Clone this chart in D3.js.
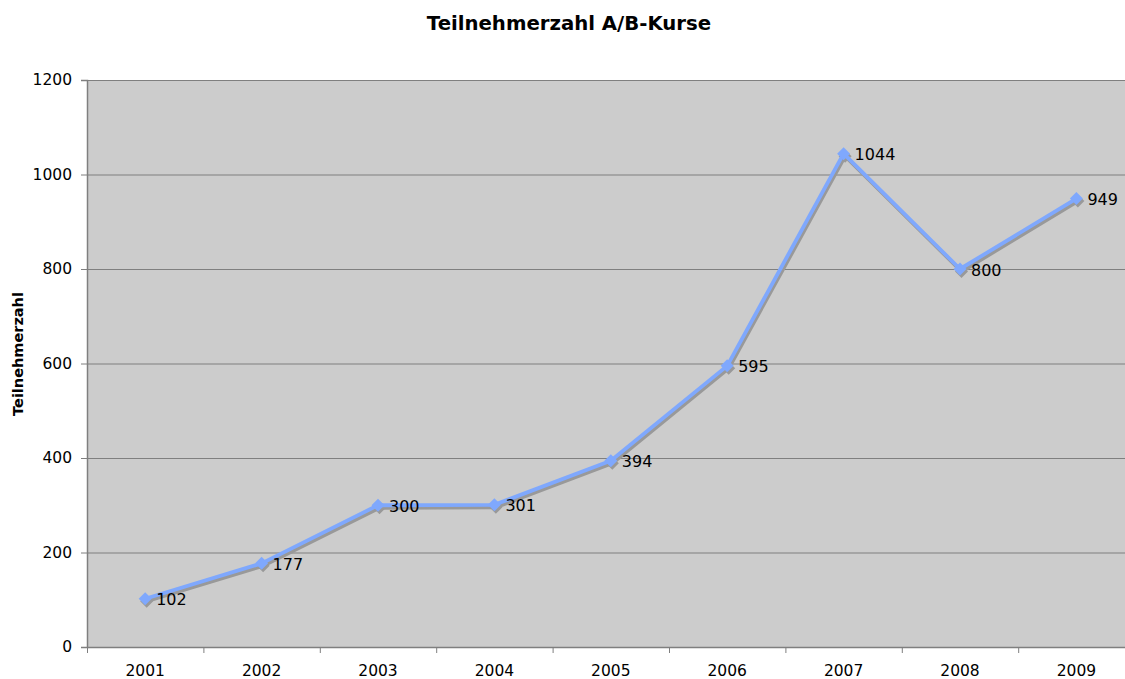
<!DOCTYPE html>
<html><head><meta charset="utf-8">
<script src="https://cdn.jsdelivr.net/npm/d3@7"></script>
<style>body{margin:0;background:#fff}svg{display:block}</style>
</head><body>
<svg id="c" width="1125" height="679"></svg>
<script>
const years = ["2001","2002","2003","2004","2005","2006","2007","2008","2009"];
const values = [102,177,300,301,394,595,1044,800,949];
const yTicks = [0,200,400,600,800,1000,1200];
const title = "Teilnehmerzahl A/B-Kurse";
const yTitle = "Teilnehmerzahl";

(function(){
const svg = d3.select("#c");
const pL = 87, pR = 1134.6, pT = 80, pB = 647;
const x = d3.scaleBand().domain(years).range([pL, pR]);
const y = d3.scaleLinear().domain([0,1200]).range([pB, pT]);
const font = "Verdana, 'DejaVu Sans', sans-serif";

svg.append("rect").attr("x", pL).attr("y", pT).attr("width", pR-pL).attr("height", pB-pT).attr("fill", "#cccccc");

svg.append("g").selectAll("line").data(yTicks.filter(d=>d>0)).join("line")
  .attr("x1", pL).attr("x2", pR).attr("y1", d=>y(d)+0.5).attr("y2", d=>y(d)+0.5)
  .attr("stroke", "#7f7f7f").attr("stroke-width", 1);

const ya = svg.append("g").attr("transform", `translate(${pL},0)`)
  .call(d3.axisLeft(y).tickValues(yTicks).tickFormat(d3.format("d")).tickSize(6).tickPadding(9));
ya.select(".domain").attr("stroke", "#7f7f7f").attr("stroke-width", 1.5);
ya.selectAll(".tick line").attr("stroke", "#7f7f7f");
ya.selectAll("text").attr("font-family", font).attr("font-size", 15.5).attr("fill", "#000");

const xa = svg.append("g").attr("transform", `translate(0,${pB})`)
  .call(d3.axisBottom(x).tickSize(0).tickPadding(18));
xa.select(".domain").attr("stroke", "#7f7f7f").attr("stroke-width", 1.5);
xa.selectAll("text").attr("font-family", font).attr("font-size", 15.5).attr("fill", "#000");
svg.append("g").selectAll("line").data(years).join("line")
  .attr("x1", d=>x(d)+0.5).attr("x2", d=>x(d)+0.5).attr("y1", pB).attr("y2", pB+6)
  .attr("stroke", "#7f7f7f");

const cx = d => x(d) + x.bandwidth()/2;
const line = d3.line().x((d,i)=>cx(years[i])).y(d=>y(d));
const diamond = (px, py, r) => `M${px},${py-r}L${px+r},${py}L${px},${py+r}L${px-r},${py}Z`;

svg.append("path").datum(values).attr("d", line).attr("fill","none")
  .attr("stroke", "#999999").attr("stroke-width", 3.8).attr("transform","translate(1.5,2.5)").attr("stroke-linejoin","round");
svg.append("g").attr("transform","translate(1.5,2.5)").selectAll("path").data(values).join("path")
  .attr("d", (d,i)=>diamond(cx(years[i]), y(d), 6.5)).attr("fill","#999999");
svg.append("path").datum(values).attr("d", line).attr("fill","none")
  .attr("stroke", "#7fa8fd").attr("stroke-width", 3.8).attr("stroke-linejoin","round");
svg.append("g").selectAll("path").data(values).join("path")
  .attr("d", (d,i)=>diamond(cx(years[i]), y(d), 6.5)).attr("fill","#7fa8fd");

svg.append("g").selectAll("text").data(values).join("text")
  .attr("x", (d,i)=>cx(years[i])+11).attr("y", d=>y(d)+6.5)
  .attr("font-family", font).attr("font-size", 16).attr("fill","#000")
  .text(d=>d);

svg.append("text").attr("x", 569).attr("y", 30).attr("text-anchor","middle")
  .attr("font-family", font).attr("font-weight","bold").attr("font-size", 19.7).text(title);
svg.append("text").attr("transform","translate(23,354) rotate(-90)").attr("text-anchor","middle")
  .attr("font-family", font).attr("font-weight","bold").attr("font-size", 14.5).text(yTitle);
})();
</script>
</body></html>
